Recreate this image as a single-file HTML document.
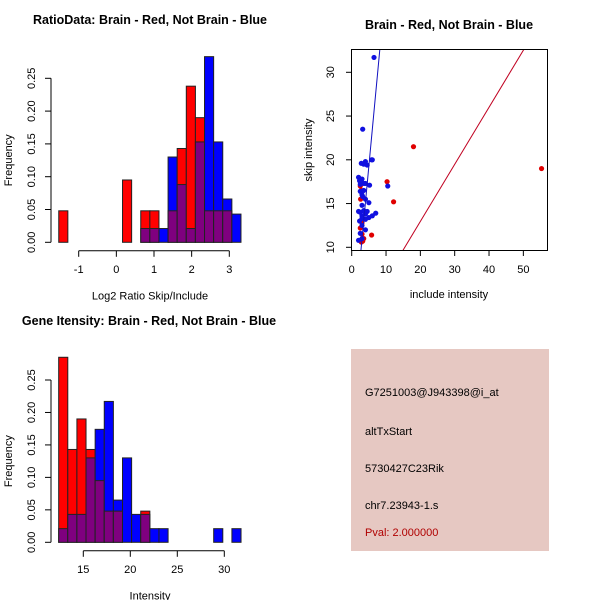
<!DOCTYPE html>
<html><head><meta charset="utf-8"><style>
html,body{margin:0;padding:0;background:#fff;}
svg{display:block;font-family:"Liberation Sans",sans-serif;}
</style></head><body>
<svg id="c" width="600" height="600" xmlns="http://www.w3.org/2000/svg"></svg>
<script>
// ---- Data ----
// Panel 1: ratio histogram (20 bins)
const ratioBinStart = -1.53, ratioBinWidth = 0.242;
const ratioRed  = [0.048,0,0,0,0,0,0,0.095,0,0.048,0.048,0,0.048,0.143,0.238,0.19,0.048,0.048,0.048,0];
const ratioBlue = [0,0,0,0,0,0,0,0,0,0.021,0.021,0.021,0.13,0.088,0.021,0.153,0.283,0.153,0.066,0.043];
const ratioXTicks = [-1,0,1,2,3];
const freqTicks = [0,0.05,0.10,0.15,0.20,0.25];
const freqTickLabels = ["0.00","0.05","0.10","0.15","0.20","0.25"];
// Panel 3: intensity histogram
const intBinStart = 12.38, intBinWidth = 0.97;
const intRed  = [0.285,0.143,0.19,0.143,0.095,0.048,0.048,0,0,0.048,0,0,0,0,0,0,0,0,0,0];
const intBlue = [0.021,0.043,0.043,0.13,0.174,0.217,0.065,0.13,0.043,0.043,0.021,0.021,0,0,0,0,0,0.021,0,0.021];
const intXTicks = [15,20,25,30];
// Panel 2: scatter
const redX = [2.5,2.8,2.6,3,2.5,3,3.5,2.8,3.2,2.5,5.8,10.3,12.2,18,55.3];
const redY = [17,16.5,15.5,12.8,12.2,11.5,11,10.6,10.7,13,11.4,17.5,15.2,21.5,19];
const blueX = [2,2.3,2.5,3,3.5,4,5.2,2.8,3.5,4,4.5,5.8,6,2.5,3,3.5,3.2,4,5,3,2,2.5,3.5,4.5,3,4,5,6,7,2.3,3,4,2.5,2,3,3.2,6.5,10.5,3,4];
const blueY = [18,17.6,17.2,17.8,17.3,17.3,17.1,19.6,19.5,19.8,19.4,20,20,16.4,16,16.5,15.8,15.5,15.1,14.8,14.1,14,14.2,14.1,13.6,13.2,13.4,13.6,13.9,13,12.5,12,11.6,10.8,11,23.5,31.7,17,13.3,13.8];
const scXTicks = [0,10,20,30,40,50];
const scYTicks = [10,15,20,25,30];
const redLine = [-0.08, 0.652];   // intercept, slope
const blueLine = [-1.56, 4.17];
const infoLines = ["G7251003@J943398@i_at","altTxStart","5730427C23Rik","chr7.23943-1.s"];
const pvalText = "Pval: 2.000000";

const NS="http://www.w3.org/2000/svg", svg=document.getElementById('c');
function mk(tag,attrs,parent){const e=document.createElementNS(NS,tag);for(const k in attrs)e.setAttribute(k,attrs[k]);(parent||svg).appendChild(e);return e;}
function txt(s,x,y,attrs,parent){const e=mk('text',Object.assign({x:x,y:y},attrs),parent);e.textContent=s;return e;}

function histPanel(g, title, titleX, xlab, top, red, blue, binStart, binW, xTicks, xScale, yBase, yTopPx){
  const yS=v=>yBase-(v/0.25)*(yBase-yTopPx);
  const t=txt(title,titleX,top+29,{'font-size':12.5,'font-weight':'bold','text-anchor':'middle'},g);
  
  
  for(let i=0;i<red.length;i++){
    const x0=xScale(binStart+i*binW), x1=xScale(binStart+(i+1)*binW);
    const r=red[i], b=blue[i], mx=Math.max(r,b), mn=Math.min(r,b);
    if(mx>0){
      const bar=mk('rect',{x:x0,y:yS(mx),width:x1-x0,height:yBase-yS(mx),fill:r>=b?'#ff0000':'#0000ff',stroke:'#222','stroke-width':1},g);
      
      
    }
    if(mn>0){
      const ov=mk('rect',{x:x0,y:yS(mn),width:x1-x0,height:yBase-yS(mn),fill:'#7f007f',stroke:'#222','stroke-width':1},g);
      
      
    }
  }
  const ya=mk('g',{},g);
  
  
  mk('line',{x1:51,x2:51,y1:yS(0),y2:yS(0.25),stroke:'#000'},ya);
  freqTicks.forEach((v,i)=>{mk('line',{x1:45,x2:51,y1:yS(v),y2:yS(v),stroke:'#000'},ya);
    txt(freqTickLabels[i],35,yS(v),{'font-size':11,'text-anchor':'middle',transform:`rotate(-90 35 ${yS(v)})`},ya);});
  const yl=txt('Frequency',12,yS(0.125),{'font-size':11,'text-anchor':'middle',transform:`rotate(-90 12 ${yS(0.125)})`},g);
  
  
  const xa=mk('g',{},g);
  
  
  const ay=yBase+8.5;
  mk('line',{x1:xScale(xTicks[0]),x2:xScale(xTicks[xTicks.length-1]),y1:ay,y2:ay,stroke:'#000'},xa);
  xTicks.forEach(v=>{mk('line',{x1:xScale(v),x2:xScale(v),y1:ay,y2:ay+6,stroke:'#000'},xa);
    txt(String(v),xScale(v),ay+22,{'font-size':11,'text-anchor':'middle'},xa);});
  const xl=txt(xlab,150,yBase+57,{'font-size':11,'text-anchor':'middle'},g);
  
  
}

const g1=mk('g',{});


histPanel(g1,'RatioData: Brain - Red, Not Brain - Blue',150,'Log2 Ratio Skip/Include',-5,ratioRed,ratioBlue,ratioBinStart,ratioBinWidth,ratioXTicks,v=>78.7+(v+1)*37.65,242.3,78.3);
const g3=mk('g',{});


histPanel(g3,'Gene Itensity: Brain - Red, Not Brain - Blue',149,'Intensity',296,intRed,intBlue,intBinStart,intBinWidth,intXTicks,v=>83.3+(v-15)*9.4,542.3,380);

const g2=mk('g',{});


const sx=v=>351.7+v*3.433, sy=v=>247.3-(v-10)*8.75;
const st=txt('Brain - Red, Not Brain - Blue',449,29,{'font-size':12.5,'font-weight':'bold','text-anchor':'middle'},g2);


const cp=mk('clipPath',{id:'clp'},g2);mk('rect',{x:351,y:49,width:196,height:201},cp);
const pts=mk('g',{'clip-path':'url(#clp)'},g2);
function abline(l,color,name){
  const x0=-5,x1=60;
  const ln=mk('line',{x1:sx(x0),y1:sy(l[0]+l[1]*x0),x2:sx(x1),y2:sy(l[0]+l[1]*x1),stroke:color,'stroke-width':1},pts);
  
  
}
redX.forEach((x,i)=>{const c=mk('circle',{cx:sx(x),cy:sy(redY[i]),r:2.6,fill:'#e00000'},pts);
  
  });
blueX.forEach((x,i)=>{const c=mk('circle',{cx:sx(x),cy:sy(blueY[i]),r:2.6,fill:'#1010e0'},pts);
  
  });
abline(blueLine,'#1010c0','blue-fit-line');
abline(redLine,'#c00020','red-fit-line');
const box=mk('rect',{x:351.5,y:49.5,width:196,height:201,fill:'none',stroke:'#000'},g2);


scXTicks.forEach(v=>{mk('line',{x1:sx(v),x2:sx(v),y1:250.5,y2:256,stroke:'#000'},g2);
  txt(String(v),sx(v),273,{'font-size':11,'text-anchor':'middle'},g2);});
scYTicks.forEach(v=>{mk('line',{x1:346,x2:351.5,y1:sy(v),y2:sy(v),stroke:'#000'},g2);
  txt(String(v),334,sy(v),{'font-size':11,'text-anchor':'middle',transform:`rotate(-90 334 ${sy(v)})`},g2);});
const sxl=txt('include intensity',449,298,{'font-size':11,'text-anchor':'middle'},g2);


const syl=txt('skip intensity',312,150,{'font-size':11,'text-anchor':'middle',transform:'rotate(-90 312 150)'},g2);



const g4=mk('g',{});


mk('rect',{x:351,y:349,width:198,height:202,fill:'#e6c8c2'},g4);
const lineYs=[396,435,472,509];
infoLines.forEach((s,i)=>{const t=txt(s,365,lineYs[i],{'font-size':11,fill:'#000'},g4);
  
  });
const pv=txt(pvalText,365,536,{'font-size':11,fill:'#b00000'},g4);


</script>
</body></html>
